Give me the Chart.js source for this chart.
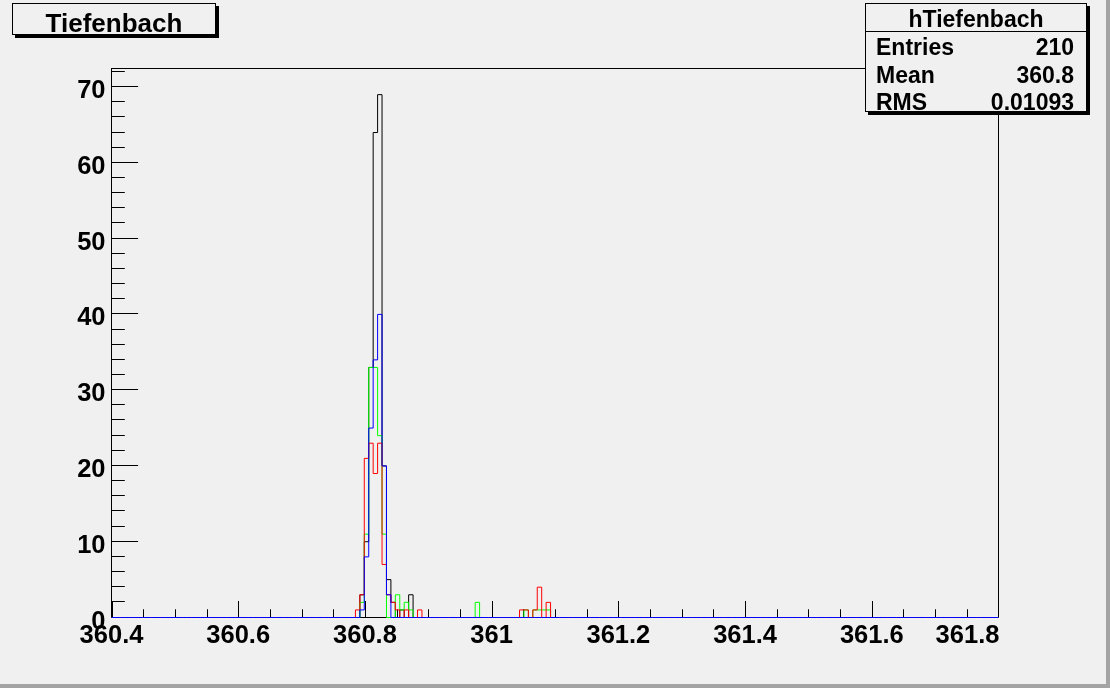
<!DOCTYPE html>
<html><head><meta charset="utf-8">
<script src="https://cdn.jsdelivr.net/npm/chart.js@4/dist/chart.umd.min.js"></script>
<style>html,body{margin:0;padding:0;background:#f0f0f0;overflow:hidden}canvas{display:block}</style>
</head><body>
<canvas id="c" width="1110" height="688"></canvas>
<script>
const titleText = "Tiefenbach";
const histName = "hTiefenbach";
const statLabels = ["Entries", "Mean", "RMS"];
const statValues = ["210", "360.8", "0.01093"];

const xMin = 360.4, xMax = 361.8, nBins = 200;
const yMax = 72.45;
const xTickValues = [360.4, 360.6, 360.8, 361.0, 361.2, 361.4, 361.6, 361.8];
const xTickLabels = ["360.4", "360.6", "360.8", "361", "361.2", "361.4", "361.6", "361.8"];
const yTickValues = [0, 10, 20, 30, 40, 50, 60, 70];
const yTickLabels = ["0", "10", "20", "30", "40", "50", "60", "70"];

// bin indices (0..199) and contents of each histogram
const blackBins   = [56, 57, 58, 59, 60, 61, 62, 63, 65, 67];
const blackCounts = [3, 10, 33, 64, 69, 20, 5, 2, 1, 3];
const greenBins   = [56, 57, 58, 59, 60, 61, 64, 65, 66, 67, 82, 93, 95, 96, 97, 98];
const greenCounts = [2, 11, 33, 33, 24, 11, 3, 1, 2, 1, 2, 1, 1, 1, 1, 1];
const redBins     = [55, 56, 57, 58, 59, 60, 61, 62, 63, 64, 66, 69, 92, 93, 95, 96, 98];
const redCounts   = [1, 3, 21, 23, 19, 23, 7, 3, 2, 1, 1, 1, 1, 1, 1, 4, 2];
const blueBins    = [56, 57, 58, 59, 60, 61, 62];
const blueCounts  = [1, 8, 25, 34, 40, 20, 3];

const binWidth = (xMax - xMin) / nBins;
function histPoints(bins, counts) {
  const content = new Array(nBins).fill(0);
  bins.forEach((b, k) => { content[b] = counts[k]; });
  const pts = content.map((v, i) => ({ x: xMin + i * binWidth, y: v }));
  pts.push({ x: xMax, y: 0 });
  return pts;
}

const FONT_AX = 'bold 25.5px "Liberation Sans", Arial, Helvetica, sans-serif';
const FONT_TITLE = 'bold 26px "Liberation Sans", Arial, Helvetica, sans-serif';
const FONT_STAT = 'bold 23px "Liberation Sans", Arial, Helvetica, sans-serif';

function pave(ctx, x, y, w, h, sh) {
  ctx.fillStyle = '#000';
  ctx.fillRect(x + sh, y + sh, w, h);
  ctx.fillStyle = '#f0f0f0';
  ctx.fillRect(x, y, w, h);
  ctx.strokeStyle = '#000';
  ctx.lineWidth = 1;
  ctx.strokeRect(x + 0.5, y + 0.5, w - 1, h - 1);
}

const rootPlugin = {
  id: 'rootStyle',
  beforeDraw(chart) {
    const ctx = chart.ctx;
    ctx.save();
    ctx.fillStyle = '#f0f0f0';
    ctx.fillRect(0, 0, chart.width, chart.height);
    ctx.fillStyle = '#a4a4a4';
    ctx.fillRect(0, 684, chart.width, 4);
    ctx.fillRect(1106, 0, 4, chart.height);
    ctx.restore();
  },
  beforeDatasetsDraw(chart) {
    const { ctx, chartArea: a, scales: { x, y } } = chart;
    ctx.save();
    ctx.strokeStyle = '#000';
    ctx.lineWidth = 1;
    ctx.strokeRect(a.left, a.top, a.right - a.left, a.bottom - a.top);
    const fw = a.right - a.left, fh = a.bottom - a.top;
    const yMaj = 0.03 * fw, yMin = yMaj / 2;
    const xMaj = 0.03 * fh, xMinL = xMaj / 2;
    ctx.beginPath();
    // y ticks: minor every 2, major every 10
    for (let v = 0; v <= yMax + 1e-9; v += 2) {
      const py = Math.round(y.getPixelForValue(v)) - 0.5;
      const len = (Math.abs(v % 10) < 1e-9) ? yMaj : yMin;
      ctx.moveTo(a.left, py); ctx.lineTo(a.left + len, py);
    }
    // x ticks: minor every 0.05, major every 0.2
    for (let k = 0; k <= 28; k++) {
      const v = xMin + k * 0.05;
      const px = Math.round(x.getPixelForValue(v)) + 0.5;
      const len = (k % 4 === 0) ? xMaj : xMinL;
      ctx.moveTo(px, a.bottom); ctx.lineTo(px, a.bottom - len);
    }
    ctx.stroke();

    ctx.fillStyle = '#000';
    ctx.font = FONT_AX;
    ctx.textBaseline = 'alphabetic';
    ctx.textAlign = 'right';
    yTickValues.forEach((v, i) => {
      ctx.fillText(yTickLabels[i], a.left - 6, y.getPixelForValue(v) + 11);
    });
    ctx.textAlign = 'center';
    xTickValues.forEach((v, i) => {
      let px = x.getPixelForValue(v);
      if (i === xTickValues.length - 1) px -= 31;
      ctx.fillText(xTickLabels[i], px, 643);
    });
    ctx.restore();
  },
  afterDraw(chart) {
    const ctx = chart.ctx;
    ctx.save();
    // title pave
    pave(ctx, 12, 3, 204, 32, 3);
    ctx.fillStyle = '#000';
    ctx.font = FONT_TITLE;
    ctx.textAlign = 'center';
    ctx.textBaseline = 'alphabetic';
    ctx.fillText(titleText, 114, 32);
    // stats pave
    pave(ctx, 865, 3, 222, 109, 3);
    ctx.beginPath();
    ctx.moveTo(865, 31.5); ctx.lineTo(1087, 31.5);
    ctx.stroke();
    ctx.fillStyle = '#000';
    ctx.font = FONT_STAT;
    ctx.textAlign = 'center';
    ctx.fillText(histName, 976, 26.5);
    const base = [55, 82.5, 110];
    statLabels.forEach((s, i) => {
      ctx.textAlign = 'left';
      ctx.fillText(s, 876, base[i]);
      ctx.textAlign = 'right';
      ctx.fillText(statValues[i], 1074, base[i]);
    });
    ctx.restore();
  }
};

new Chart(document.getElementById('c'), {
  type: 'line',
  data: {
    datasets: [
      { label: 'blue', data: histPoints(blueBins, blueCounts), borderColor: '#0000ff', order: 0, clip: false },
      { label: 'red', data: histPoints(redBins, redCounts), borderColor: '#ff0000', order: 1, clip: false },
      { label: 'green', data: histPoints(greenBins, greenCounts), borderColor: '#00ff00', order: 2, clip: false },
      { label: histName, data: histPoints(blackBins, blackCounts), borderColor: '#000000', order: 3, clip: false }
    ]
  },
  options: {
    responsive: false,
    animation: false,
    devicePixelRatio: 1,
    events: [],
    layout: { padding: { left: 111.5, right: 111.5, top: 68.5, bottom: 70.5 } },
    elements: {
      line: { borderWidth: 1, stepped: true, tension: 0, fill: false },
      point: { radius: 0, hoverRadius: 0 }
    },
    plugins: { legend: { display: false }, tooltip: { enabled: false }, title: { display: false } },
    scales: {
      x: { type: 'linear', min: xMin, max: xMax, display: false },
      y: { type: 'linear', min: 0, max: yMax, display: false }
    }
  },
  plugins: [rootPlugin]
});
</script>
</body></html>
